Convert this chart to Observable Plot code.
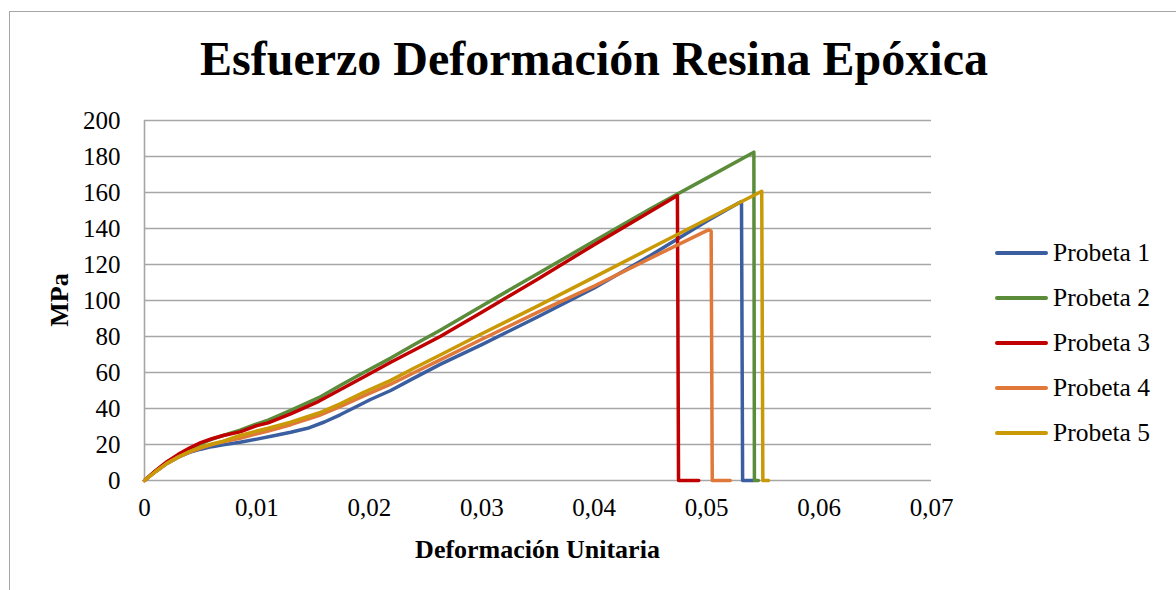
<!DOCTYPE html>
<html>
<head>
<meta charset="utf-8">
<script src="https://cdn.jsdelivr.net/npm/d3@7"></script>
<script src="https://cdn.jsdelivr.net/npm/@observablehq/plot@0.6"></script>
<style>
  html, body { margin: 0; padding: 0; background: #fff; overflow: hidden; }
  #wrap { position: relative; width: 1176px; height: 590px; overflow: hidden; font-family: "Liberation Serif", "Times New Roman", serif; }
  #frame { position: absolute; left: 9px; top: 11px; width: 1300px; height: 800px; border: 1.5px solid #a6a6a6; box-sizing: border-box; }
  #title { position: absolute; left: 0; top: 34px; width: 1188px; text-align: center; font-weight: bold; font-size: 48px; line-height: 50px; color: #000; }
  #chart { position: absolute; left: 0; top: 0; }
  .leg { position: absolute; left: 995px; height: 30px; display: flex; align-items: center; font-size: 25.5px; color: #000; font-family: "Liberation Serif", "Times New Roman", serif; }
  .leg .sw { width: 53px; height: 3.5px; border-radius: 2px; margin-right: 5px; }
</style>
</head>
<body>
<div id="wrap">
  <div id="frame"></div>
  <div id="chart"></div>
  <div id="title">Esfuerzo Deformación Resina Epóxica</div>
  <div id="legend"></div>
</div>
<script>
// ---- data ----
const seriesNames = ["Probeta 1", "Probeta 2", "Probeta 3", "Probeta 4", "Probeta 5"];
const seriesColors = ["#3a5e9f", "#5b8c3a", "#c00000", "#e0783a", "#c99a06"];

const strain1 = [0, 0.001, 0.002, 0.003, 0.004, 0.005, 0.006, 0.007, 0.0085, 0.010, 0.0116, 0.013, 0.0145, 0.016, 0.0174, 0.019, 0.0201, 0.0219, 0.024, 0.0263, 0.030, 0.035, 0.040, 0.045, 0.050, 0.0528, 0.0531, 0.0532, 0.0542];
const stress1 = [0, 5, 9.5, 13, 15.6, 17.4, 18.8, 19.8, 21.3, 23, 25, 26.8, 29, 32.5, 36.5, 41.5, 45, 50, 57, 64.5, 75.5, 91, 107, 125, 144, 154, 155, 0, 0];

const strain2 = [0, 0.001, 0.002, 0.003, 0.004, 0.005, 0.006, 0.007, 0.0085, 0.010, 0.011, 0.013, 0.0155, 0.0174, 0.0195, 0.0219, 0.024, 0.0263, 0.030, 0.035, 0.040, 0.045, 0.050, 0.0542, 0.05425, 0.0546];
const stress2 = [0, 5.5, 10, 14, 17.5, 20.5, 23, 25, 28, 31.5, 33.5, 39, 46, 52.8, 60, 68, 75.5, 83.5, 97, 115, 133, 151, 168, 182.4, 0, 0];

const strain3 = [0, 0.001, 0.002, 0.003, 0.004, 0.005, 0.006, 0.007, 0.0085, 0.010, 0.011, 0.013, 0.0155, 0.0174, 0.0195, 0.0219, 0.024, 0.0263, 0.030, 0.035, 0.040, 0.045, 0.0474, 0.0475, 0.0493];
const stress3 = [0, 5.5, 10.5, 14.5, 18, 21, 23.2, 25, 27, 30.5, 32, 37, 44, 50.4, 57.5, 65.7, 72.5, 80, 93.5, 112, 131, 149.5, 158.3, 0, 0];

const strain4 = [0, 0.001, 0.002, 0.003, 0.004, 0.005, 0.006, 0.007, 0.0085, 0.010, 0.011, 0.013, 0.0155, 0.0174, 0.0195, 0.0219, 0.024, 0.0263, 0.030, 0.035, 0.040, 0.045, 0.0502, 0.0504, 0.0505, 0.0521];
const stress4 = [0, 5, 9.5, 13, 15.8, 18, 20, 21.5, 23.5, 26, 27.5, 31, 36, 41, 47, 53.5, 60, 67, 78.5, 93.5, 108, 123.5, 139.4, 138.5, 0, 0];

const strain5 = [0, 0.001, 0.002, 0.003, 0.004, 0.005, 0.006, 0.007, 0.0085, 0.010, 0.011, 0.013, 0.0155, 0.0174, 0.0195, 0.0219, 0.024, 0.0263, 0.030, 0.035, 0.040, 0.045, 0.050, 0.0549, 0.0550, 0.0555];
const stress5 = [0, 5, 9.5, 13, 16, 18.5, 20.3, 21.8, 25, 27.5, 29, 32.4, 37.5, 42.6, 49, 55.6, 62.5, 69.7, 81.5, 97, 113, 129, 145, 160.7, 0, 0];

const xTicks = [0, 0.01, 0.02, 0.03, 0.04, 0.05, 0.06, 0.07];
const xTickLabels = ["0", "0,01", "0,02", "0,03", "0,04", "0,05", "0,06", "0,07"];
const yTicks = [0, 20, 40, 60, 80, 100, 120, 140, 160, 180, 200];

// ---- build table ----
const strains = [strain1, strain2, strain3, strain4, strain5];
const stresses = [stress1, stress2, stress3, stress4, stress5];
const rows = [];
strains.forEach((xs, i) => xs.forEach((x, j) => rows.push({series: seriesNames[i], x, y: stresses[i][j]})));

const chart = Plot.plot({
  width: 1176,
  height: 590,
  marginLeft: 144,
  marginRight: 245,
  marginTop: 120,
  marginBottom: 110,
  style: {fontFamily: "'Liberation Serif', 'Times New Roman', serif", fontSize: "25px", color: "#000", background: "transparent"},
  x: {domain: [0, 0.07]},
  y: {domain: [0, 200]},
  color: {domain: seriesNames, range: seriesColors},
  marks: [
    Plot.ruleY(yTicks, {stroke: "#a6a6a6", strokeWidth: 1.6, strokeOpacity: 1}),
    Plot.ruleX([0], {stroke: "#a6a6a6", strokeWidth: 1.6}),
    Plot.axisY({ticks: yTicks, tickSize: 0, tickPadding: 24, fontSize: 25, label: null}),
    Plot.axisX({ticks: xTicks, tickSize: 0, tickPadding: 18, fontSize: 25, label: null,
      tickFormat: (d) => xTickLabels[xTicks.findIndex(t => Math.abs(t - d) < 1e-9)]}),
    Plot.line(rows, {x: "x", y: "y", z: "series", stroke: "series", strokeWidth: 3.5, strokeLinejoin: "round", strokeLinecap: "round", curve: "linear"})
  ]
});
document.getElementById("chart").appendChild(chart);

// axis titles as SVG text
const svg = d3.select(chart);
svg.append("text").attr("x", 537.5).attr("y", 558).attr("text-anchor", "middle")
  .attr("font-weight", "bold").attr("font-size", 26).attr("fill", "#000").text("Deformación Unitaria");
svg.append("text").attr("transform", "translate(68,300) rotate(-90)").attr("text-anchor", "middle")
  .attr("font-weight", "bold").attr("font-size", 26).attr("fill", "#000").text("MPa");

// legend
const legend = document.getElementById("legend");
seriesNames.forEach((name, i) => {
  const row = document.createElement("div");
  row.className = "leg";
  row.style.top = (253 + 45 * i - 15) + "px";
  const sw = document.createElement("div");
  sw.className = "sw";
  sw.style.background = seriesColors[i];
  const t = document.createElement("span");
  t.textContent = name;
  row.appendChild(sw); row.appendChild(t);
  legend.appendChild(row);
});
</script>
</body>
</html>
